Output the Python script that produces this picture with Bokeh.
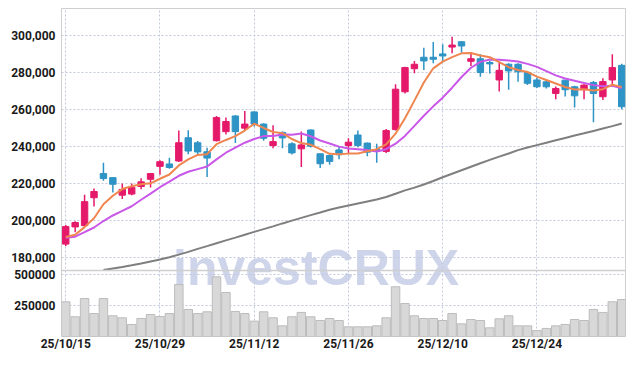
import numpy as np
from bokeh.plotting import figure
from bokeh.models import (ColumnDataSource, Range1d, FixedTicker, NumeralTickFormatter,
                          Label, Span)
from bokeh.embed import file_html
from bokeh.resources import INLINE

# ---------------- data (prices in thousands of won, volume in thousands of shares) ----------------
dates = ["25/10/15", "25/10/16", "25/10/17", "25/10/20", "25/10/21", "25/10/22", "25/10/23",
         "25/10/24", "25/10/27", "25/10/28", "25/10/29", "25/10/30", "25/10/31", "25/11/03",
         "25/11/04", "25/11/05", "25/11/06", "25/11/07", "25/11/10", "25/11/11", "25/11/12",
         "25/11/13", "25/11/14", "25/11/17", "25/11/18", "25/11/19", "25/11/20", "25/11/21",
         "25/11/24", "25/11/25", "25/11/26", "25/11/27", "25/11/28", "25/12/01", "25/12/02",
         "25/12/03", "25/12/04", "25/12/05", "25/12/08", "25/12/09", "25/12/10", "25/12/11",
         "25/12/12", "25/12/15", "25/12/16", "25/12/17", "25/12/18", "25/12/19", "25/12/22",
         "25/12/23", "25/12/24", "25/12/26", "25/12/29", "25/12/30", "26/01/02", "26/01/05",
         "26/01/06", "26/01/07", "26/01/08", "26/01/09"]

opens = [187.0, 196.3, 197.0, 212.1, 225.2, 223.0, 213.5, 214.1, 218.2, 222.1,
         229.1, 230.4, 232.0, 244.6, 241.9, 237.0, 243.0, 247.9, 256.4, 249.8,
         258.6, 252.0, 240.4, 247.5, 241.3, 238.6, 248.8, 235.9, 235.0, 238.0,
         240.4, 246.1, 241.7, 238.2, 237.2, 249.0, 269.5, 282.0, 288.2, 288.2,
         290.0, 293.7, 296.6, 286.0, 287.4, 285.3, 275.9, 284.4, 284.4, 279.9,
         275.9, 274.9, 268.6, 275.8, 272.2, 270.6, 274.5, 266.8, 275.9, 283.8]
highs = [197.3, 199.4, 213.7, 217.1, 231.1, 223.3, 219.8, 219.8, 222.7, 225.5,
         232.4, 233.8, 248.5, 248.7, 242.8, 239.2, 256.4, 255.5, 256.8, 259.1,
         258.8, 252.5, 251.4, 248.0, 242.1, 248.0, 249.0, 236.0, 235.5, 240.0,
         244.3, 248.5, 242.0, 241.3, 249.4, 273.6, 283.0, 286.2, 293.4, 296.4,
         295.2, 299.3, 296.8, 291.0, 289.8, 286.2, 285.3, 285.0, 285.0, 280.3,
         277.2, 276.0, 272.4, 276.0, 272.7, 273.6, 275.4, 276.8, 289.8, 284.7]
lows = [186.0, 193.4, 196.5, 207.3, 221.3, 215.0, 211.4, 213.5, 216.7, 217.7,
        224.5, 227.8, 231.5, 235.6, 235.6, 223.4, 242.5, 246.3, 241.8, 248.4,
        250.7, 243.0, 238.9, 238.9, 235.5, 228.8, 239.3, 228.2, 230.0, 232.9,
        235.9, 239.5, 234.6, 231.1, 236.4, 248.5, 268.6, 279.5, 281.3, 284.9,
        286.2, 290.3, 290.7, 283.5, 277.7, 279.4, 269.7, 270.6, 274.9, 273.1,
        271.5, 271.3, 265.5, 267.0, 261.0, 265.5, 253.0, 265.0, 273.6, 260.1]
closes = [196.5, 198.7, 210.0, 215.5, 222.5, 219.4, 216.6, 217.7, 220.7, 225.2,
          231.6, 228.5, 241.9, 237.4, 236.9, 233.6, 255.5, 253.4, 247.9, 252.0,
          252.0, 244.3, 242.5, 244.5, 236.4, 240.7, 240.0, 230.5, 231.8, 235.4,
          242.2, 240.4, 236.8, 237.2, 248.5, 270.9, 282.6, 284.4, 286.2, 287.1,
          288.9, 294.8, 294.3, 287.4, 279.9, 284.6, 281.1, 280.8, 280.3, 274.1,
          272.2, 272.2, 271.3, 270.6, 267.3, 273.1, 268.6, 275.0, 282.6, 261.4]

ma5 = [190.8, 192.1, 196.2, 201.0, 208.6, 213.2, 216.8, 218.3, 219.4, 219.9,
       222.4, 224.7, 229.6, 232.9, 235.3, 235.7, 241.1, 243.4, 245.5, 248.5,
       252.2, 249.9, 247.7, 247.1, 243.9, 241.7, 240.8, 238.4, 235.9, 235.7,
       236.0, 236.1, 237.3, 238.4, 241.0, 246.8, 255.2, 264.7, 274.5, 282.2,
       285.8, 288.3, 290.3, 290.5, 289.1, 288.2, 285.5, 282.8, 281.3, 280.2,
       277.7, 275.9, 274.0, 272.1, 270.7, 270.9, 270.2, 270.9, 273.3, 272.1]
ma10 = [190.5, 191.0, 193.5, 196.0, 199.5, 202.5, 205.0, 207.5, 211.0, 214.3,
        217.8, 220.8, 224.0, 226.2, 227.6, 229.0, 232.9, 236.5, 239.2, 241.9,
        243.9, 245.5, 245.6, 246.3, 246.2, 246.9, 245.4, 243.1, 241.5, 239.8,
        238.8, 238.4, 237.9, 237.1, 238.4, 241.4, 245.6, 251.0, 256.5, 261.6,
        266.3, 271.7, 277.5, 282.5, 285.7, 287.0, 286.9, 286.5, 285.9, 284.6,
        283.0, 280.7, 278.4, 276.7, 275.5, 274.3, 273.1, 272.5, 272.7, 271.4]
# first values lie below the price panel (not visible in the reference)
ma60 = [None, None, None, None, 173.0, 173.8, 174.6, 175.5, 176.5, 177.6,
        178.7, 179.9, 181.3, 182.8, 184.4, 185.9, 187.5, 189.0, 190.5, 192.1,
        193.6, 195.1, 196.6, 198.2, 199.7, 201.2, 202.7, 204.1, 205.6, 206.8,
        207.9, 209.0, 210.1, 211.2, 212.5, 214.3, 216.1, 217.6, 219.3, 221.2,
        223.2, 225.1, 227.0, 228.9, 230.8, 232.6, 234.4, 236.1, 237.9, 239.3,
        240.6, 241.9, 243.2, 244.5, 245.8, 247.0, 248.3, 249.6, 250.9, 252.3]

volumes = [280, 159, 306, 185, 306, 167, 151, 97, 145, 177,
           161, 185, 419, 218, 185, 199, 481, 355, 202, 185,
           124, 199, 151, 86, 159, 194, 159, 129, 145, 129,
           78, 78, 78, 86, 151, 401, 266, 167, 145, 145,
           129, 185, 102, 137, 129, 70, 143, 167, 86, 86,
           48, 65, 86, 97, 137, 129, 218, 194, 280, 298]

tick_labels = ["25/10/15", "25/10/29", "25/11/12", "25/11/26", "25/12/10", "25/12/24"]
price_ticks = [180000, 200000, 220000, 240000, 260000, 280000, 300000]
volume_ticks = [250000, 500000]

# ---------------- styling / layout constants ----------------
UP = "#e5196a"
DOWN = "#2e93c5"
GRID = "#c3c9dc"
FONT = "Roboto"
LABEL_COLOR = "#1a1a1a"

FRAME_H = 328          # px, whole frame (price panel + volume panel)
VOL_PANEL_H = 66       # px, volume panel at the bottom of the frame
PRICE_LO, PRICE_HI = 172700.0, 314600.0   # visible price panel
VOL_PANEL_TOP = 532000.0                  # volume value at the panel's top edge

price_per_px = (PRICE_HI - PRICE_LO) / (FRAME_H - VOL_PANEL_H)
Y0 = PRICE_LO - price_per_px * VOL_PANEL_H
vol_end = VOL_PANEL_TOP * FRAME_H / VOL_PANEL_H

K = 1000.0
idx = np.arange(len(dates))
o = np.array(opens) * K
h = np.array(highs) * K
l = np.array(lows) * K
c = np.array(closes) * K
up = c >= o


def make_src(mask):
    return ColumnDataSource(dict(
        x=idx[mask], top=np.maximum(o, c)[mask], bottom=np.minimum(o, c)[mask],
        high=h[mask], low=l[mask]))


up_src = make_src(up)
dn_src = make_src(~up)
tick_pos = [dates.index(t) for t in tick_labels]
x_overrides = {pos: lab for pos, lab in zip(tick_pos, tick_labels)}

# volume ticks expressed on the (shared) left axis scale
vol_tick_on_axis = [int(round(Y0 + v / vol_end * (PRICE_HI - Y0))) for v in volume_ticks]
y_overrides = {t: str(v) for t, v in zip(vol_tick_on_axis, volume_ticks)}
all_y_ticks = price_ticks + vol_tick_on_axis

p = figure(width=627, height=356, x_range=Range1d(-0.45, len(dates) - 0.6),
           y_range=Range1d(Y0, PRICE_HI), output_backend="svg", toolbar_location=None,
           min_border_left=61, min_border_right=2, min_border_top=8, min_border_bottom=20)
p.extra_y_ranges = {"vol": Range1d(0, vol_end)}
p.outline_line_color = "#cfcfcf"
p.background_fill_color = "white"
p.border_fill_color = "white"

p.xgrid.ticker = FixedTicker(ticks=tick_pos)
p.xgrid.grid_line_color = GRID
p.xgrid.grid_line_dash = "2 2"
p.ygrid.ticker = FixedTicker(ticks=all_y_ticks)
p.ygrid.grid_line_color = GRID
p.ygrid.grid_line_dash = "2 2"

p.yaxis.ticker = FixedTicker(ticks=all_y_ticks)
p.yaxis.formatter = NumeralTickFormatter(format="0,0")
p.yaxis.major_label_overrides = y_overrides
p.xaxis.ticker = FixedTicker(ticks=tick_pos)
p.xaxis.major_label_overrides = x_overrides
for ax in list(p.xaxis) + list(p.yaxis):
    ax.axis_line_color = None
    ax.major_tick_line_color = None
    ax.minor_tick_line_color = None
    ax.major_tick_out = 0
    ax.major_tick_in = 0
    ax.minor_tick_out = 0
    ax.minor_tick_in = 0
    ax.major_label_text_font = FONT
    ax.major_label_text_font_size = "12px"
    ax.major_label_text_font_style = "bold"
    ax.major_label_text_color = LABEL_COLOR
p.yaxis.major_label_standoff = 6
p.xaxis.major_label_standoff = 0

# watermark
p.add_layout(Label(x=26.57, y=PRICE_LO + 1500, text="investCRUX", text_font="Liberation Sans",
                   text_font_style="bold", text_font_size="50px", text_color="#c6cde6",
                   text_alpha=0.85, text_align="center", text_baseline="alphabetic",
                   level="image"))

# panel separator
p.add_layout(Span(location=PRICE_LO, dimension="width", line_color="#cfcfcf", line_width=1.5))

# volume
p.vbar(x=idx, top=np.array(volumes) * K, width=0.9, fill_color="#d8d8d8",
       line_color="#bcbcbc", line_width=1, y_range_name="vol")

# long moving average
p.line(idx, np.array(ma60, dtype=float) * K, line_color="#7f7f7f", line_width=2)

# candles
for src, col in ((up_src, UP), (dn_src, DOWN)):
    p.segment(x0="x", y0="high", x1="x", y1="low", source=src, line_color=col, line_width=1.5)
    p.vbar(x="x", top="top", bottom="bottom", width=0.68, source=src,
           fill_color=col, line_color=col)

p.line(idx, np.array(ma10) * K, line_color="#c957e8", line_width=2)
p.line(idx, np.array(ma5) * K, line_color="#ef8650", line_width=2)

open("out.html", "w").write(file_html(p, INLINE))
